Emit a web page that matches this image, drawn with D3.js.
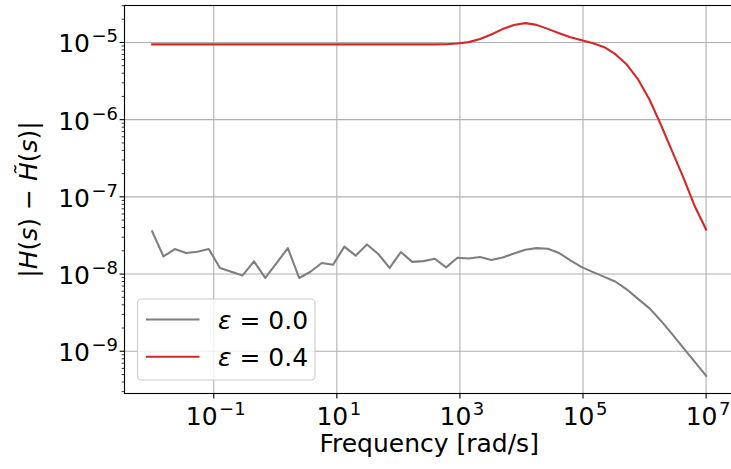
<!DOCTYPE html>
<html>
<head>
<meta charset="utf-8">
<script src="https://cdn.jsdelivr.net/npm/d3@7"></script>
<style>
  html, body { margin: 0; padding: 0; background: #fff; }
  svg { display: block; font-family: "DejaVu Sans", sans-serif; }
</style>
</head>
<body>
<svg id="chart" width="731" height="469"></svg>
<script>
// Sample frequencies (rad/s), log-spaced from 1e-2 to 1e7
const frequencies = [
  0.01, 0.015264, 0.0233, 0.035565, 0.054287, 0.082864, 0.12649, 0.19307, 0.29471, 0.44984,
  0.68665, 1.0481, 1.5999, 2.4421, 3.7276, 5.6899, 8.6851, 13.257, 20.236, 30.888,
  47.149, 71.969, 109.85, 167.68, 255.95, 390.69, 596.36, 910.3, 1389.5, 2121.0,
  3237.5, 4941.7, 7543.1, 11514, 17575, 26827, 40949, 62506, 95410, 145635,
  222300, 339322, 517947, 790604, 1206793, 1842069, 2811769, 4291934, 6551286, 1e7
];

// |H(s) - H~(s)| for eps = 0.0
const errEps00 = [
  3.56e-8, 1.69e-8, 2.11e-8, 1.87e-8, 1.95e-8, 2.11e-8, 1.20e-8, 1.07e-8, 9.6e-9, 1.46e-8,
  8.9e-9, 1.39e-8, 2.17e-8, 8.9e-9, 1.07e-8, 1.39e-8, 1.32e-8, 2.27e-8, 1.73e-8, 2.42e-8,
  1.82e-8, 1.20e-8, 1.93e-8, 1.44e-8, 1.47e-8, 1.58e-8, 1.22e-8, 1.63e-8, 1.59e-8, 1.66e-8,
  1.52e-8, 1.64e-8, 1.85e-8, 2.07e-8, 2.17e-8, 2.13e-8, 1.87e-8, 1.50e-8, 1.23e-8, 1.06e-8,
  9.2e-9, 7.95e-9, 6.3e-9, 4.74e-9, 3.59e-9, 2.49e-9, 1.67e-9, 1.10e-9, 7.3e-10, 4.8e-10
];

// |H(s) - H~(s)| for eps = 0.4
const errEps04 = [
  9.45e-6, 9.45e-6, 9.45e-6, 9.45e-6, 9.45e-6, 9.45e-6, 9.45e-6, 9.45e-6, 9.45e-6, 9.45e-6,
  9.45e-6, 9.45e-6, 9.45e-6, 9.45e-6, 9.45e-6, 9.45e-6, 9.45e-6, 9.45e-6, 9.45e-6, 9.45e-6,
  9.45e-6, 9.45e-6, 9.45e-6, 9.45e-6, 9.45e-6, 9.46e-6, 9.5e-6, 9.7e-6, 1.01e-5, 1.107e-5,
  1.27e-5, 1.49e-5, 1.68e-5, 1.78e-5, 1.69e-5, 1.50e-5, 1.32e-5, 1.17e-5, 1.07e-5, 9.8e-6,
  8.7e-6, 7.0e-6, 5.14e-6, 3.29e-6, 1.81e-6, 8.6e-7, 3.89e-7, 1.76e-7, 7.55e-8, 3.77e-8
];

const seriesLabels = ["0.0", "0.4"];
const seriesColors = ["#7f7f7f", "#d62728"];
const xTickExponents = [-1, 1, 3, 5, 7];
const yTickExponents = [-9, -8, -7, -6, -5];

const series = [
  { label: seriesLabels[0], values: errEps00, color: seriesColors[0] },
  { label: seriesLabels[1], values: errEps04, color: seriesColors[1] }
];

const svg = d3.select("#chart");
const plot = { left: 124.5, right: 733.8, top: 5.5, bottom: 393.5 };
const FONT = 25;

// Log-space domain padded by 5% on each side
function paddedLogDomain(vals) {
  const lo = Math.log10(d3.min(vals)), hi = Math.log10(d3.max(vals));
  const m = (hi - lo) * 0.05;
  return [10 ** (lo - m), 10 ** (hi + m)];
}

const x = d3.scaleLog()
  .domain(paddedLogDomain(frequencies))
  .range([plot.left, plot.right]);
const y = d3.scaleLog()
  .domain(paddedLogDomain(errEps00.concat(errEps04)))
  .range([plot.bottom, plot.top]);

const xTicks = xTickExponents.map(e => 10 ** e);
const yTicks = yTickExponents.map(e => 10 ** e);

// minor y ticks: 2..9 x each decade inside the domain
const yMinor = [];
for (let e = -10; e <= -4; e++) {
  for (let k = 2; k <= 9; k++) {
    const v = k * 10 ** e;
    if (v >= y.domain()[0] && v <= y.domain()[1]) yMinor.push(v);
  }
}

// grid
const grid = svg.append("g").attr("stroke", "#b0b0b0").attr("stroke-width", 1.1);
grid.selectAll("line.gx").data(xTicks).join("line")
  .attr("x1", d => x(d)).attr("x2", d => x(d))
  .attr("y1", plot.top).attr("y2", plot.bottom);
grid.selectAll("line.gy").data(yTicks).join("line")
  .attr("x1", plot.left).attr("x2", plot.right)
  .attr("y1", d => y(d)).attr("y2", d => y(d));

// series lines
const line = d3.line()
  .x((d, i) => x(frequencies[i]))
  .y(d => y(d));

svg.append("g").selectAll("path").data(series).join("path")
  .attr("d", d => line(d.values))
  .attr("fill", "none")
  .attr("stroke", d => d.color)
  .attr("stroke-width", 2.1)
  .attr("stroke-linejoin", "round")
  .attr("stroke-linecap", "square");

// spines
svg.append("rect")
  .attr("x", plot.left).attr("y", plot.top)
  .attr("width", plot.right - plot.left).attr("height", plot.bottom - plot.top)
  .attr("fill", "none").attr("stroke", "#000").attr("stroke-width", 1.1);

// tick label with superscript exponent
function powerLabel(sel, e) {
  sel.append("tspan").text("10");
  sel.append("tspan")
    .attr("dx", 1.5)
    .attr("dy", -10)
    .attr("font-size", FONT * 0.72)
    .text(e < 0 ? "\u2212" + Math.abs(e) : String(e));
}

// x axis ticks
const xAxis = svg.append("g");
xAxis.selectAll("line").data(xTicks).join("line")
  .attr("x1", d => x(d)).attr("x2", d => x(d))
  .attr("y1", plot.bottom).attr("y2", plot.bottom + 4.9)
  .attr("stroke", "#000").attr("stroke-width", 1.1);
xAxis.selectAll("text").data(xTickExponents).join("text")
  .attr("x", e => x(10 ** e) + 2)
  .attr("y", plot.bottom + 31)
  .attr("text-anchor", "middle")
  .attr("font-size", FONT)
  .attr("fill", "#000")
  .each(function (e) { powerLabel(d3.select(this), e); });

// y axis ticks
const yAxis = svg.append("g");
yAxis.selectAll("line.major").data(yTicks).join("line")
  .attr("x1", plot.left - 4.9).attr("x2", plot.left)
  .attr("y1", d => y(d)).attr("y2", d => y(d))
  .attr("stroke", "#000").attr("stroke-width", 1.1);
yAxis.selectAll("line.minor").data(yMinor).join("line")
  .attr("x1", plot.left - 2.8).attr("x2", plot.left)
  .attr("y1", d => y(d)).attr("y2", d => y(d))
  .attr("stroke", "#000").attr("stroke-width", 0.8);
yAxis.selectAll("text").data(yTickExponents).join("text")
  .attr("x", plot.left - 6.5)
  .attr("y", e => y(10 ** e) + 10)
  .attr("text-anchor", "end")
  .attr("font-size", FONT)
  .attr("fill", "#000")
  .each(function (e) { powerLabel(d3.select(this), e); });

// axis labels
svg.append("text")
  .attr("x", (plot.left + plot.right) / 2)
  .attr("y", 452)
  .attr("text-anchor", "middle")
  .attr("font-size", FONT)
  .text("Frequency [rad/s]");

const yl = svg.append("text")
  .attr("transform", `translate(37,${(plot.top + plot.bottom) / 2}) rotate(-90)`)
  .attr("text-anchor", "middle")
  .attr("font-size", FONT);
yl.append("tspan").text("|");
yl.append("tspan").attr("font-style", "italic").text("H");
yl.append("tspan").text("(");
yl.append("tspan").attr("font-style", "italic").text("s");
yl.append("tspan").text(") \u2212 ");
yl.append("tspan").attr("font-style", "italic").text("H\u0303");
yl.append("tspan").text("(");
yl.append("tspan").attr("font-style", "italic").text("s");
yl.append("tspan").text(")|");

// legend
const legend = svg.append("g");
legend.append("rect")
  .attr("x", 137.5).attr("y", 299)
  .attr("width", 177.5).attr("height", 81)
  .attr("rx", 4).attr("ry", 4)
  .attr("fill", "#fff").attr("fill-opacity", 0.8)
  .attr("stroke", "#cccccc").attr("stroke-width", 1.1);
const items = legend.selectAll("g").data(series).join("g")
  .attr("transform", (d, i) => `translate(0,${319.5 + i * 37.3})`);
items.append("line")
  .attr("x1", 146).attr("x2", 199.5)
  .attr("stroke", d => d.color).attr("stroke-width", 2.1);
const lt = items.append("text")
  .attr("x", 218).attr("y", 9)
  .attr("font-size", FONT);
lt.append("tspan").attr("font-style", "italic").text("\u03B5");
lt.append("tspan").text(" = ");
lt.append("tspan").text(d => d.label);
</script>
</body>
</html>
